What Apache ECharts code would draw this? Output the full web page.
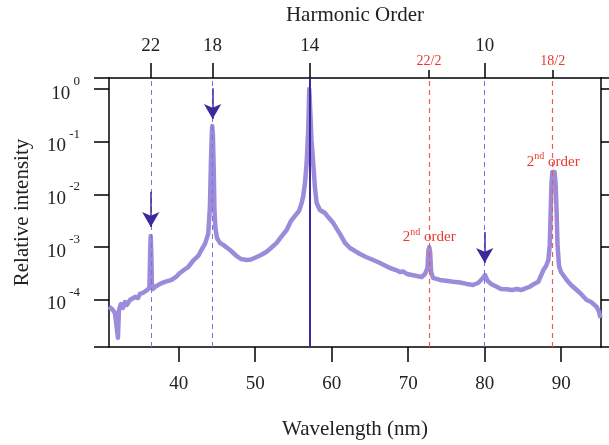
<!DOCTYPE html>
<html>
<head>
<meta charset="utf-8">
<script src="https://cdn.jsdelivr.net/npm/echarts@6/dist/echarts.min.js"></script>
<style>
  html, body { margin: 0; padding: 0; background: #fff; }
  #chart { width: 609px; height: 445px; }
</style>
</head>
<body>
<div id="chart"></div>
<script>
// spectrum (wavelength in nm, relative intensity)
var wavelengths = [
  30.9, 31.28, 31.68, 31.94, 32.07, 32.2, 32.46, 32.72, 32.98, 33.24,
  33.64, 33.9, 34.29, 34.68, 34.94, 35.33, 35.73, 35.99, 36.18, 36.29,
  36.35, 36.42, 36.51, 36.64, 36.9, 37.56, 38.21, 39.08, 39.65, 40.17,
  40.69, 41.25, 41.87, 42.56, 43.05, 43.44, 43.87, 44.09, 44.22, 44.33,
  44.39, 44.48, 44.59, 44.68, 44.81, 45.01, 45.4, 45.83, 46.71, 47.58,
  48.14, 48.89, 49.45, 50.2, 50.76, 51.5, 52.07, 52.81, 53.37, 54.12,
  54.68, 55.42, 55.73, 56.08, 56.29, 56.51, 56.73, 56.94, 57.07, 57.2,
  57.36, 57.59, 57.82, 58.04, 58.47, 59.12, 59.65, 60.21, 60.69, 61.08,
  61.74, 62.39, 63.05, 63.7, 64.48, 65.44, 66.31, 67.1, 67.62, 68.41,
  68.93, 69.32, 69.84, 70.5, 71.15, 71.76, 72.2, 72.52, 72.65, 72.76,
  72.87, 73.0, 73.24, 74.16, 74.94, 75.9, 76.77, 77.65, 78.47, 79.13,
  79.65, 80.05, 80.37, 80.83, 81.57, 82.13, 82.88, 83.57, 84.22, 84.75,
  85.4, 85.92, 86.45, 87.01, 87.67, 88.02, 88.32, 88.5, 88.63, 88.73,
  88.84, 88.97, 89.13, 89.28, 89.41, 89.52, 89.71, 89.97, 90.72, 91.28,
  92.03, 92.59, 93.33, 93.9, 94.64, 94.94, 95.14
];
var intensities = [
  7.3e-5, 6.7e-5, 5.6e-5, 2.7e-5, 1.9e-5, 6.4e-5, 8.3e-5, 7.0e-5, 9.1e-5, 8.0e-5,
  9.9e-5, 9.1e-5, 1.13e-4, 1.08e-4, 1.29e-4, 1.35e-4, 1.47e-4, 1.53e-4, 1.67e-4, 8.8e-4,
  1.62e-3, 8.8e-4, 2.0e-4, 1.6e-4, 1.75e-4, 2.0e-4, 2.18e-4, 2.38e-4, 2.71e-4, 3.23e-4,
  3.67e-4, 4.19e-4, 5.45e-4, 6.78e-4, 9.2e-4, 1.15e-3, 1.78e-3, 5.8e-3, 0.0397, 0.134,
  0.198, 0.134, 0.029, 5.06e-3, 2.3e-3, 1.49e-3, 1.2e-3, 1.1e-3, 8.8e-4, 6.78e-4,
  5.94e-4, 5.69e-4, 5.8e-4, 6.49e-4, 7.08e-4, 8.18e-4, 9.6e-4, 1.2e-3, 1.55e-3, 2.11e-3,
  3.13e-3, 4.26e-3, 4.84e-3, 6.87e-3, 9.33e-3, 0.0164, 0.0394, 0.167, 1.0, 0.4,
  0.108, 0.0394, 0.0132, 6.87e-3, 5.06e-3, 4.44e-3, 3.56e-3, 2.86e-3, 2.2e-3, 1.78e-3,
  1.2e-3, 9.6e-4, 8.43e-4, 7.4e-4, 6.49e-4, 5.69e-4, 5.0e-4, 4.38e-4, 4.01e-4, 3.67e-4,
  3.37e-4, 3.45e-4, 3.09e-4, 2.95e-4, 2.83e-4, 2.71e-4, 3.09e-4, 4.0e-4, 8.8e-4, 1.0e-3,
  8.07e-4, 3.37e-4, 2.6e-4, 2.38e-4, 2.3e-4, 2.2e-4, 2.13e-4, 2.0e-4, 1.91e-4, 2.08e-4,
  2.48e-4, 2.95e-4, 2.3e-4, 2.0e-4, 1.77e-4, 1.6e-4, 1.58e-4, 1.53e-4, 1.6e-4, 1.53e-4,
  1.67e-4, 1.77e-4, 2.0e-4, 2.2e-4, 3.67e-4, 4.38e-4, 5.69e-4, 1.1e-3, 5.06e-3, 0.0164,
  0.0266, 0.0278, 0.0266, 0.0151, 4.07e-3, 1.1e-3, 4.38e-4, 3.37e-4, 2.38e-4, 1.91e-4,
  1.53e-4, 1.29e-4, 9.9e-5, 9.1e-5, 7.3e-5, 5.9e-5, 4.5e-5
];

// axis ticks
var bottomTicks = [40, 50, 60, 70, 80, 90];
var harmonicPositions = [36.36, 44.44, 57.14, 80.0];
var harmonicLabels = ['22', '18', '14', '10'];
var secondOrderPositions = [72.73, 88.89];
var secondOrderLabels = ['22/2', '18/2'];

// guide lines and arrows
var blueDashed = [36.36, 44.44, 80.0];
var redDashed = [72.73, 88.89];
var solidLine = 57.14;
var arrowX = [36.36, 44.44, 80.0];
var arrowFrom = [0.0112, 1.04, 0.00194];
var arrowTo = [0.0024, 0.27, 0.0005];

// "2nd order" notes
var noteX = [72.75, 88.95];
var noteY = [0.00162, 0.0436];

var FONT = 'Liberation Serif';
var dom = document.getElementById('chart');
var myChart = echarts.init(dom, null, { renderer: 'canvas' });

function pickLabel(positions, labels) {
    return function (v) {
        for (var i = 0; i < positions.length; i++) {
            if (Math.abs(positions[i] - v) < 1e-6) return labels[i];
        }
        return '';
    };
}

var spectrum = [];
for (var i = 0; i < wavelengths.length; i++) {
    spectrum.push([wavelengths[i], intensities[i]]);
}

var guideLines = [];
blueDashed.forEach(function (x) {
    guideLines.push({ xAxis: x, lineStyle: { color: '#7d72e2', type: [5, 4], width: 1 } });
});
redDashed.forEach(function (x) {
    guideLines.push({ xAxis: x, lineStyle: { color: '#ee5a52', type: [5, 4], width: 1.2 } });
});
guideLines.push({ xAxis: solidLine, lineStyle: { color: '#3a2a9e', type: 'solid', width: 2 } });

var arrows = [];
for (var j = 0; j < arrowX.length; j++) {
    arrows.push([
        { coord: [arrowX[j], arrowFrom[j]], symbol: 'none' },
        { coord: [arrowX[j], arrowTo[j]], symbol: 'arrow', symbolSize: [13, 15] }
    ]);
}

var notes = [];
for (var k = 0; k < noteX.length; k++) {
    notes.push({ coord: [noteX[k], noteY[k]] });
}

var yMin = 1.27e-5, yMax = 1.62;
var xMin = 30.9, xMax = 95.2;

option = {
    animation: false,
    textStyle: { fontFamily: FONT },
    grid: {
        left: 109,
        right: 8,
        top: 78,
        bottom: 98,
        containLabel: false,
        outerBoundsMode: 'none'
    },
    xAxis: [
        {
            type: 'value',
            position: 'bottom',
            min: xMin,
            max: xMax,
            name: 'Wavelength (nm)',
            nameLocation: 'middle',
            nameGap: 72,
            nameTextStyle: { fontFamily: FONT, fontSize: 21, color: '#222' },
            axisLine: { show: true, onZero: false, lineStyle: { color: '#000', width: 1.5 } },
            axisTick: { show: true, inside: false, length: 15, customValues: bottomTicks, lineStyle: { color: '#000', width: 1.5 } },
            axisLabel: { customValues: bottomTicks, margin: 28, fontFamily: FONT, fontSize: 19, color: '#222' },
            splitLine: { show: false }
        },
        {
            type: 'value',
            position: 'top',
            min: xMin,
            max: xMax,
            name: 'Harmonic Order',
            nameLocation: 'middle',
            nameGap: 52,
            nameTextStyle: { fontFamily: FONT, fontSize: 21, color: '#222' },
            axisLine: { show: true, onZero: false, lineStyle: { color: '#000', width: 1.5 } },
            axisTick: { show: true, inside: false, length: 15, customValues: harmonicPositions, lineStyle: { color: '#000', width: 1.5 } },
            axisLabel: {
                customValues: harmonicPositions,
                margin: 22,
                fontFamily: FONT,
                fontSize: 19,
                color: '#222',
                formatter: pickLabel(harmonicPositions, harmonicLabels)
            },
            splitLine: { show: false }
        },
        {
            type: 'value',
            position: 'top',
            min: xMin,
            max: xMax,
            axisLine: { show: false, onZero: false },
            axisTick: { show: true, inside: false, length: 8, customValues: secondOrderPositions, lineStyle: { color: '#000', width: 1.5 } },
            axisLabel: {
                customValues: secondOrderPositions,
                margin: 10,
                fontFamily: FONT,
                fontSize: 14,
                color: '#e8392f',
                formatter: pickLabel(secondOrderPositions, secondOrderLabels)
            },
            splitLine: { show: false }
        }
    ],
    yAxis: [
        {
            type: 'log',
            logBase: 10,
            position: 'left',
            min: yMin,
            max: yMax,
            name: 'Relative intensity',
            nameLocation: 'middle',
            nameGap: 76,
            nameTextStyle: { fontFamily: FONT, fontSize: 21, color: '#222' },
            axisLine: { show: true, onZero: false, lineStyle: { color: '#000', width: 1.5 } },
            axisTick: { show: true, inside: false, length: 15, lineStyle: { color: '#000', width: 1.5 } },
            axisLabel: {
                margin: 29,
                formatter: function (v) {
                    var e = Math.log10(v);
                    var r = Math.round(e);
                    if (Math.abs(e - r) > 1e-6) return '';
                    return '{b|10}{e| ' + (r === 0 ? '0' : '-' + Math.abs(r)) + '}';
                },
                rich: {
                    b: { fontFamily: FONT, fontSize: 19, color: '#222', lineHeight: 28, verticalAlign: 'bottom' },
                    e: { fontFamily: FONT, fontSize: 13, color: '#222', lineHeight: 28, verticalAlign: 'top' }
                }
            },
            splitLine: { show: false }
        },
        {
            type: 'log',
            logBase: 10,
            position: 'right',
            min: yMin,
            max: yMax,
            axisLine: { show: true, onZero: false, lineStyle: { color: '#000', width: 1.5 } },
            axisTick: { show: true, inside: false, length: 15, lineStyle: { color: '#000', width: 1.5 } },
            axisLabel: { show: false },
            splitLine: { show: false }
        }
    ],
    series: [
        {
            name: 'spectrum',
            type: 'line',
            xAxisIndex: 0,
            yAxisIndex: 0,
            data: spectrum,
            showSymbol: false,
            symbol: 'none',
            lineStyle: { color: '#9b8bda', width: 4.5, join: 'round' },
            z: 2,
            markLine: {
                silent: true,
                symbol: ['none', 'none'],
                label: { show: false },
                z: 4,
                data: guideLines
            }
        },
        {
            name: 'notes',
            type: 'line',
            xAxisIndex: 0,
            yAxisIndex: 0,
            data: [],
            z: 5,
            markLine: {
                silent: true,
                label: { show: false },
                lineStyle: { color: '#3a2a9e', type: 'solid', width: 1.5 },
                itemStyle: { color: '#3a2a9e' },
                data: arrows
            },
            markPoint: {
                silent: true,
                symbol: 'circle',
                symbolSize: 0,
                label: {
                    show: true,
                    position: 'inside',
                    formatter: '{a|2}{s|nd}{a| order}',
                    rich: {
                        a: { fontFamily: FONT, fontSize: 15, color: '#e8392f', lineHeight: 18, verticalAlign: 'bottom' },
                        s: { fontFamily: FONT, fontSize: 10, color: '#e8392f', lineHeight: 18, verticalAlign: 'top' }
                    }
                },
                data: notes
            }
        }
    ]
};

if (option && typeof option === "object") {
    myChart.setOption(option, true);
}
</script>
</body>
</html>
